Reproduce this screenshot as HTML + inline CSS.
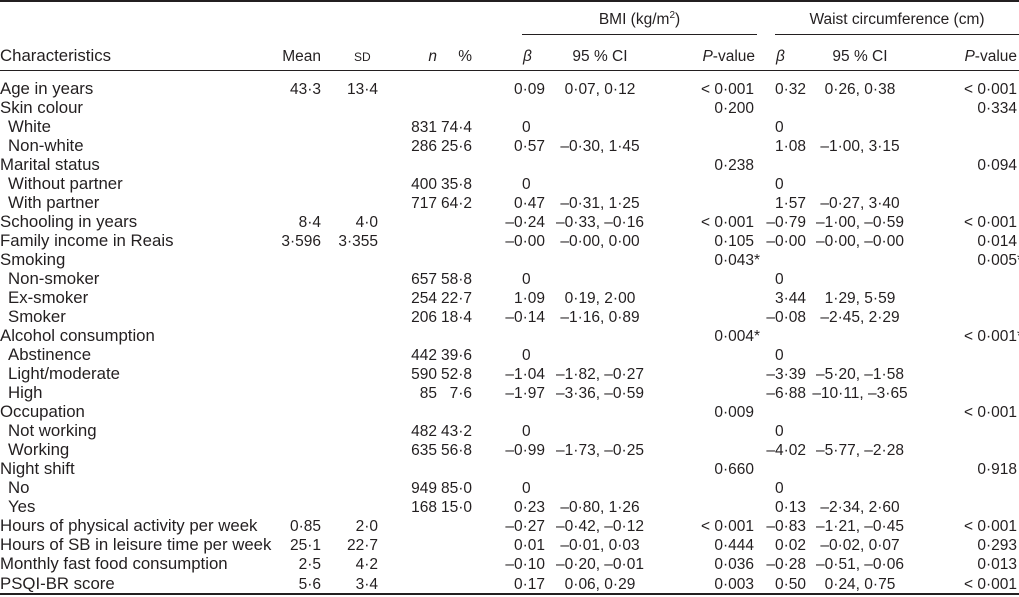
<!DOCTYPE html>
<html><head><meta charset="utf-8">
<style>
body{margin:0;background:#fff;}
#t{position:relative;width:1019px;height:597px;overflow:hidden;font-family:"Liberation Sans",sans-serif;font-size:15.5px;color:#231f20;}
.c{position:absolute;white-space:nowrap;line-height:17px;height:17px;}
.lab{font-size:16.8px;margin-top:-1px;}
.r{position:absolute;background:#231f20;}
.sc{font-size:12px;}
</style></head><body>
<div id="t">
<div class="r" style="left:0;top:0;width:1019px;height:1.5px"></div>
<div class="c" style="left:522px;width:235px;text-align:center;top:11px">BMI (kg/m<sup style="font-size:10px;line-height:0">2</sup>)</div>
<div class="r" style="left:522px;top:34px;width:235px;height:1px"></div>
<div class="c" style="left:775px;width:244px;text-align:center;top:11px">Waist circumference (cm)</div>
<div class="r" style="left:775px;top:34px;width:244px;height:1px"></div>
<div class="c lab" style="left:0;top:48px">Characteristics</div>
<div class="c" style="right:698px;top:48px">Mean</div>
<div class="c sc" style="left:354px;top:49px">SD</div>
<div class="c" style="right:582px;top:48px;font-style:italic">n</div>
<div class="c" style="right:547px;top:48px">%</div>
<div class="c" style="left:523px;top:48px;font-style:italic">β</div>
<div class="c" style="left:555px;width:90px;text-align:center;top:48px">95 % CI</div>
<div class="c" style="right:264px;top:48px"><i>P</i>-value</div>
<div class="c" style="left:776px;top:48px;font-style:italic">β</div>
<div class="c" style="left:815px;width:90px;text-align:center;top:48px">95 % CI</div>
<div class="c" style="right:2px;top:48px"><i>P</i>-value</div>
<div class="r" style="left:0;top:70px;width:1019px;height:1px"></div>
<div class="r" style="left:0;top:593px;width:1019px;height:1.5px"></div>
</div>
<script>
const labels=["Age in years","Skin colour","White","Non-white","Marital status","Without partner","With partner","Schooling in years","Family income in Reais","Smoking","Non-smoker","Ex-smoker","Smoker","Alcohol consumption","Abstinence","Light/moderate","High","Occupation","Not working","Working","Night shift","No","Yes","Hours of physical activity per week","Hours of SB in leisure time per week","Monthly fast food consumption","PSQI-BR score"];
const indent=[0,0,1,1,0,1,1,0,0,0,1,1,1,0,1,1,1,0,1,1,0,1,1,0,0,0,0];
const means=["43·3","","","","","","","8·4","3·596","","","","","","","","","","","","","","","0·85","25·1","2·5","5·6"];
const sds=["13·4","","","","","","","4·0","3·355","","","","","","","","","","","","","","","2·0","22·7","4·2","3·4"];
const ns=["","","831","286","","400","717","","","","657","254","206","","442","590","85","","482","635","","949","168","","","",""];
const pcts=["","","74·4","25·6","","35·8","64·2","","","","58·8","22·7","18·4","","39·6","52·8","7·6","","43·2","56·8","","85·0","15·0","","","",""];
const bmiBeta=["0·09","","0","0·57","","0","0·47","–0·24","–0·00","","0","1·09","–0·14","","0","–1·04","–1·97","","0","–0·99","","0","0·23","–0·27","0·01","–0·10","0·17"];
const bmiCI=["0·07, 0·12","","","–0·30, 1·45","","","–0·31, 1·25","–0·33, –0·16","–0·00, 0·00","","","0·19, 2·00","–1·16, 0·89","","","–1·82, –0·27","–3·36, –0·59","","","–1·73, –0·25","","","–0·80, 1·26","–0·42, –0·12","–0·01, 0·03","–0·20, –0·01","0·06, 0·29"];
const bmiP=["< 0·001","0·200","","","0·238","","","< 0·001","0·105","0·043*","","","","0·004*","","","","0·009","","","0·660","","","< 0·001","0·444","0·036","0·003"];
const wBeta=["0·32","","0","1·08","","0","1·57","–0·79","–0·00","","0","3·44","–0·08","","0","–3·39","–6·88","","0","–4·02","","0","0·13","–0·83","0·02","–0·28","0·50"];
const wCI=["0·26, 0·38","","","–1·00, 3·15","","","–0·27, 3·40","–1·00, –0·59","–0·00, –0·00","","","1·29, 5·59","–2·45, 2·29","","","–5·20, –1·58","–10·11, –3·65","","","–5·77, –2·28","","","–2·34, 2·60","–1·21, –0·45","–0·02, 0·07","–0·51, –0·06","0·24, 0·75"];
const wP=["< 0·001","0·334","","","0·094","","","< 0·001","0·014","0·005*","","","","< 0·001*","","","","< 0·001","","","0·918","","","< 0·001","0·293","0·013","< 0·001"];
const T=document.getElementById('t');
function cell(txt,top,style){const d=document.createElement('div');d.className='c';d.style.cssText=style+';top:'+top+'px';
if(txt.endsWith('*')){d.innerHTML=txt.slice(0,-1)+'<span style="position:absolute;left:100%">*</span>';}else d.textContent=txt;
T.appendChild(d);return d;}
function beta(v,top,left,right){return v==="0"?cell(v,top,'left:'+left+'px'):cell(v,top,'right:'+right+'px');}
for(let i=0;i<labels.length;i++){
 const y=Math.round(80.5+i*(495/26));
 let e;
 e=cell(labels[i],y,'left:'+(indent[i]?8:0)+'px');
 e.classList.add('lab');
 
 
 if(means[i]){e=cell(means[i],y,'right:698px');}
 if(sds[i]){e=cell(sds[i],y,'right:641px');}
 if(ns[i]){e=cell(ns[i],y,'right:582px');}
 if(pcts[i]){e=cell(pcts[i],y,'right:547px');}
 if(bmiBeta[i]){e=beta(bmiBeta[i],y,522,474);}
 if(bmiCI[i]){e=cell(bmiCI[i],y,'left:550px;width:100px;text-align:center');}
 if(bmiP[i]){e=cell(bmiP[i],y,'right:265px');}
 if(wBeta[i]){e=beta(wBeta[i],y,775,213);}
 if(wCI[i]){e=cell(wCI[i],y,'left:810px;width:100px;text-align:center');}
 if(wP[i]){e=cell(wP[i],y,'right:2px');}
}
</script>
</body></html>
